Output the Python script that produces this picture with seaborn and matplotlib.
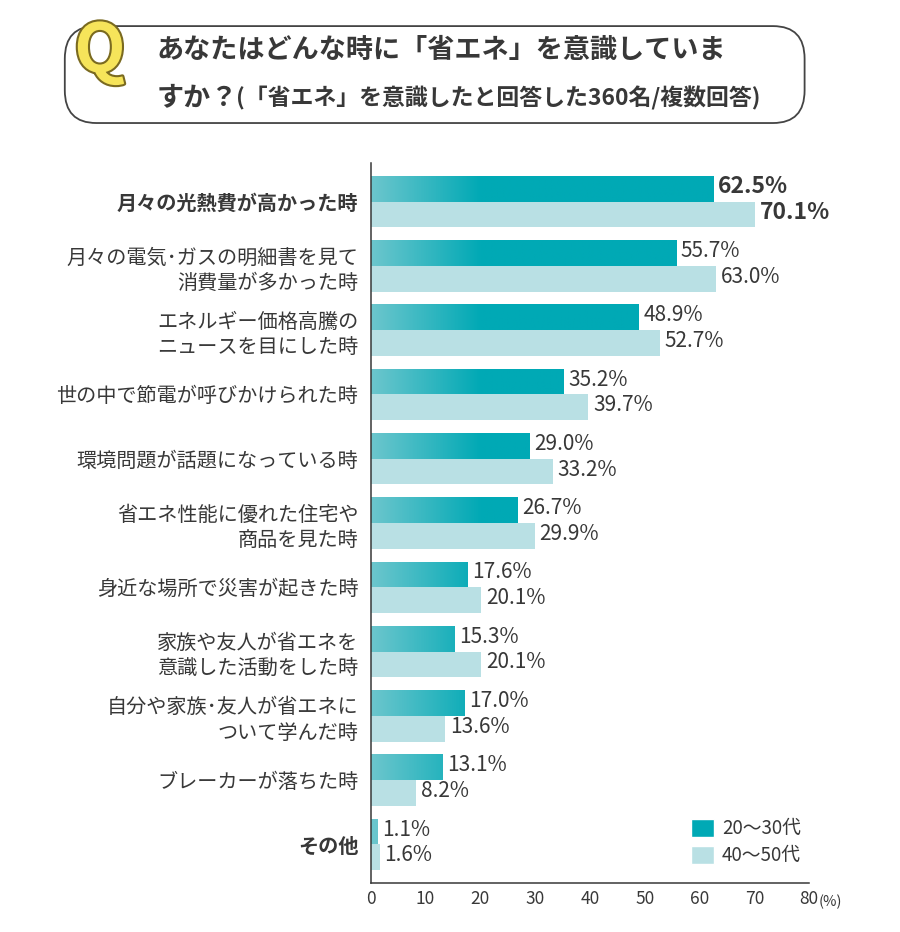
import matplotlib
matplotlib.use("Agg")
import matplotlib.pyplot as plt
import matplotlib.patheffects as pe
from matplotlib.patches import FancyBboxPatch, Patch
from matplotlib.colors import LinearSegmentedColormap
import numpy as np
import pandas as pd
import seaborn as sns

categories = [
    "月々の光熱費が高かった時",
    "月々の電気･ガスの明細書を見て\n消費量が多かった時",
    "エネルギー価格高騰の\nニュースを目にした時",
    "世の中で節電が呼びかけられた時",
    "環境問題が話題になっている時",
    "省エネ性能に優れた住宅や\n商品を見た時",
    "身近な場所で災害が起きた時",
    "家族や友人が省エネを\n意識した活動をした時",
    "自分や家族･友人が省エネに\nついて学んだ時",
    "ブレーカーが落ちた時",
    "その他",
]
young = [62.5, 55.7, 48.9, 35.2, 29.0, 26.7, 17.6, 15.3, 17.0, 13.1, 1.1]
older = [70.1, 63.0, 52.7, 39.7, 33.2, 29.9, 20.1, 20.1, 13.6, 8.2, 1.6]
groups = ["20〜30代", "40〜50代"]
xticks = [0, 10, 20, 30, 40, 50, 60, 70, 80]

DARK = "#00a9b5"
LIGHT = "#b9e0e4"
GRAD_START = "#6cc6cd"
TEXT = "#383838"

sns.set_theme(style="white")
plt.rcParams["font.family"] = ["Noto Sans CJK JP", "DejaVu Sans"]

df = pd.DataFrame({
    "cat": categories * 2,
    "value": young + older,
    "group": [groups[0]] * len(categories) + [groups[1]] * len(categories),
})

fig = plt.figure(figsize=(9, 9.32), dpi=100)
ax = fig.add_axes([0.412, 0.0526, 0.487, 0.7725])

sns.barplot(data=df, y="cat", x="value", hue="group", orient="h",
            palette=[DARK, LIGHT], width=0.8, dodge=True, saturation=1,
            legend=False, linewidth=0, ax=ax)

# gradient on the darker bars (light at the left, solid after ~20%)
cmap = LinearSegmentedColormap.from_list(
    "tealgrad", [(0, GRAD_START), (0.25, DARK), (1, DARK)])
grad = np.linspace(0, 1, 512).reshape(1, -1)
for bar in ax.containers[0]:
    y0, h = bar.get_y(), bar.get_height()
    im = ax.imshow(grad, cmap=cmap, aspect="auto", zorder=bar.get_zorder() + 0.1,
                   extent=[0, 80, y0 + h, y0], interpolation="bilinear")
    im.set_clip_path(bar)

# value labels
for cont, vals in zip(ax.containers, [young, older]):
    for j, (bar, v) in enumerate(zip(cont, vals)):
        yc = bar.get_y() + bar.get_height() / 2
        first = j == 0
        ax.text(v + 0.9, yc - 0.03, f"{v:.1f}%", va="center", ha="left",
                fontsize=16.5 if first else 15,
                fontweight="bold" if first else "normal", color=TEXT,
                zorder=5)

ax.set_xlim(0, 80)
ax.set_ylim(10.6, -0.6)
ax.set_xticks(xticks)
ax.set_xticklabels([str(t) for t in xticks], fontsize=12.5, color=TEXT)
ax.tick_params(axis="x", direction="in", length=7, width=1, color=TEXT, pad=5)
ax.tick_params(axis="y", length=0, pad=9)
ax.set_yticks(range(len(categories)))
ax.set_yticklabels(categories, fontsize=14.5, color=TEXT, linespacing=1.3)
ax.get_yticklabels()[0].set_fontweight("bold")
ax.get_yticklabels()[-1].set_fontweight("bold")
ax.set_xlabel("")
ax.set_ylabel("")
for s in ["top", "right"]:
    ax.spines[s].set_visible(False)
for s in ["left", "bottom"]:
    ax.spines[s].set_color(TEXT)
    ax.spines[s].set_linewidth(1.1)
ax.text(81.7, -0.026, "(%)", transform=ax.get_xaxis_transform(),
        ha="left", va="center", fontsize=10.5, color=TEXT)

handles = [Patch(facecolor=DARK), Patch(facecolor=LIGHT)]
ax.legend(handles, groups, loc="lower right", bbox_to_anchor=(1.02, 0.0),
          frameon=False, fontsize=13.5, handlelength=1.2, handleheight=1.1,
          handletextpad=0.45, labelspacing=0.3, labelcolor=TEXT)

# title box
box = FancyBboxPatch((0.072, 0.868), 0.822, 0.104, transform=fig.transFigure,
                     boxstyle="round,pad=0,rounding_size=0.035",
                     facecolor="white", edgecolor="#444444", linewidth=1.3)
fig.patches.append(box)
fig.text(0.111, 0.944, "Q", fontsize=48, fontweight="bold", color="#f6e45a",
         ha="center", va="center",
         path_effects=[pe.withStroke(linewidth=3, foreground="#7a6a20")])
fig.text(0.174, 0.946, "あなたはどんな時に「省エネ」を意識していま",
         fontsize=19.5, fontweight="bold", color=TEXT, ha="left", va="center")
fig.text(0.174, 0.896, "すか？", fontsize=19.5, fontweight="bold",
         color=TEXT, ha="left", va="center")
fig.text(0.262, 0.895, "(「省エネ」を意識したと回答した360名/複数回答)",
         fontsize=16.5, fontweight="bold", color=TEXT, ha="left", va="center")

fig.savefig("out.png", dpi=100, facecolor="white")
